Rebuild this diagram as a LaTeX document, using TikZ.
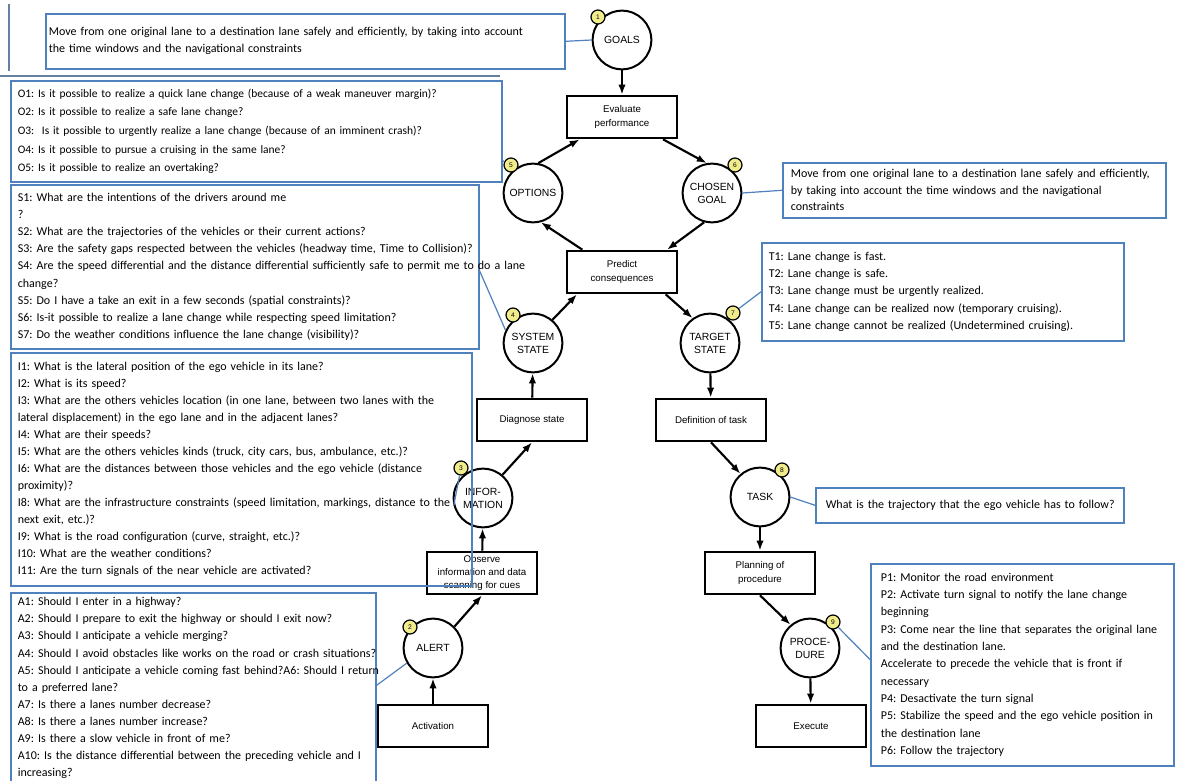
\documentclass[tikz,border=0pt]{standalone}
\usepackage{fontspec}
\setmainfont{Carlito}
\newfontfamily\arialf{Liberation Sans}
\usetikzlibrary{arrows.meta}
\definecolor{qblue}{RGB}{79,129,189}
\definecolor{badgey}{RGB}{240,236,140}
\frenchspacing
\hyphenpenalty=10000
\exhyphenpenalty=10000
\begin{document}
\begin{tikzpicture}[x=0.75pt,y=-0.75pt,
  proc/.style={draw, line width=1.5pt, minimum width=82pt, minimum height=32pt, inner sep=1pt, align=center, font=\arialf\fontsize{7.3}{9.8}\selectfont},
  state/.style={circle, draw, line width=1.5pt, minimum size=44pt, inner sep=0pt, align=center, font=\arialf\fontsize{7.8}{9.8}\selectfont},
  badge/.style={circle, draw=black, line width=0.9pt, fill=badgey, minimum size=10.5pt, inner sep=0pt, font=\arialf\fontsize{5}{5}\selectfont},
  flow/.style={line width=1.6pt, -{Latex[length=7.5pt,width=5.5pt]}},
  tbox/.style={draw=qblue, line width=1.2pt, anchor=north west, align=left, font=\fontsize{9}{12.8}\selectfont, inner ysep=2pt},
  conn/.style={draw=qblue, line width=0.9pt},
  frame/.style={draw=qblue!55!gray, line width=0.8pt}
]
\path[use as bounding box] (0,0) rectangle (1190,781);
\clip (0,0) rectangle (1190,781);
\fill[white] (0,0) rectangle (1190,781);

% stray frame lines at top left
\draw[frame] (9,4) -- (9,71);
\draw[frame] (0,76) -- (500,76);

% states
\node[state] (goals)  at (622,40)  {GOALS};
\node[state] (opt)    at (533,193) {OPTIONS};
\node[state] (chosen) at (712,193) {CHOSEN\\GOAL};
\node[state] (sys)    at (533,343) {SYSTEM\\STATE};
\node[state] (target) at (710,343) {TARGET\\STATE};
\node[state] (info)   at (483,498) {INFOR-\\MATION};
\node[state] (task)   at (760,497) {TASK};
\node[state] (alert)  at (433,648) {ALERT};
\node[state] (proc)   at (810,648) {PROCE-\\DURE};

% processes
\node[proc] (eval) at (622,117) {Evaluate\\performance};
\node[proc] (pred) at (622,272) {Predict\\consequences};
\node[proc] (diag) at (532,420) {Diagnose state};
\node[proc] (def)  at (711,420) {Definition of task};
\node[proc, font=\arialf\fontsize{7.3}{9.6}\selectfont] (obs)  at (482,573) {Observe\\information and data\\scanning for cues};
\node[proc] (plan) at (760,573) {Planning of\\procedure};
\node[proc] (act)  at (433,726) {Activation};
\node[proc] (exec) at (811,726) {Execute};

% flows
\draw[flow] (goals) -- (eval);
\draw[flow] (opt.80) -- ([xshift=10pt]eval.south west);
\draw[flow] ([xshift=-11pt]eval.south east) -- (chosen.100);
\draw[flow] (chosen.255) -- ([xshift=-8pt]pred.north east);
\draw[flow] ([xshift=12pt]pred.north west) -- (opt.285);
\draw[flow] (sys.50) -- ([xshift=8pt]pred.south west);
\draw[flow] ([xshift=-9pt]pred.south east) -- (target.125);
\draw[flow] (diag) -- (sys);
\draw[flow] (target) -- (def);
\draw[flow] (info.50) -- (diag.south);
\draw[flow] (def.south) -- (task.130);
\draw[flow] (obs) -- (info);
\draw[flow] (task) -- (plan);
\draw[flow] (alert.45) -- (obs.south);
\draw[flow] (plan.south) -- (proc.130);
\draw[flow] (act) -- (alert);
\draw[flow] (proc) -- (exec);

% text boxes
\node[tbox, text width=384.75pt, minimum height=41.25pt, inner xsep=2.25pt] (gbox) at (45,13)
{\mbox{Move from one original lane to a destination lane safely and efficiently, by taking into account}\\the time windows and the navigational constraints};

\node[tbox, text width=357.75pt, minimum height=75.75pt, inner xsep=5.25pt, font=\fontsize{8.6}{13.9}\selectfont] (obox) at (10,80)
{\mbox{O1: Is it possible to realize a quick lane change (because of a weak maneuver margin)?}\\
O2: Is it possible to realize a safe lane change?\\
\mbox{O3: \ Is it possible to urgently realize a lane change (because of an imminent crash)?}\\
O4: Is it possible to pursue a cruising in the same lane?\\
O5: Is it possible to realize an overtaking?};

\node[tbox, text width=340.5pt, minimum height=123pt, inner xsep=5.25pt] (sbox) at (10,184)
{S1: What are the intentions of the drivers around me\\
?\\
\mbox{S2: What are the trajectories of the vehicles or their current actions?}\\
\mbox{S3: Are the safety gaps respected between the vehicles (headway time, Time to Collision)?}\\
\mbox{S4: Are the speed differential and the distance differential sufficiently safe to permit me to do a lane}\\
change?\\
\mbox{S5: Do I have a take an exit in a few seconds (spatial constraints)?}\\
\mbox{S6: Is-it possible to realize a lane change while respecting speed limitation?}\\
\mbox{S7: Do the weather conditions influence the lane change (visibility)?}};

\node[tbox, text width=335.25pt, minimum height=174.75pt, inner xsep=5.25pt] (ibox) at (10,352)
{\mbox{I1: What is the lateral position of the ego vehicle in its lane?}\\
I2: What is its speed?\\
\mbox{I3: What are the others vehicles location (in one lane, between two lanes with the}\\
\mbox{lateral displacement) in the ego lane and in the adjacent lanes?}\\
I4: What are their speeds?\\
\mbox{I5: What are the others vehicles kinds (truck, city cars, bus, ambulance, etc.)?}\\
\mbox{I6: What are the distances between those vehicles and the ego vehicle (distance}\\
proximity)?\\
\mbox{I8: What are the infrastructure constraints (speed limitation, markings, distance to the}\\
next exit, etc.)?\\
\mbox{I9: What is the road configuration (curve, straight, etc.)?}\\
I10: What are the weather conditions?\\
\mbox{I11: Are the turn signals of the near vehicle are activated?}};

\node[tbox, text width=263.25pt, inner xsep=5.25pt, inner ysep=3.5pt] (abox) at (10,592)
{A1: Should I enter in a highway?\\
\mbox{A2: Should I prepare to exit the highway or should I exit now?}\\
A3: Should I anticipate a vehicle merging?\\
\mbox{A4: Should I avoid obstacles like works on the road or crash situations?}\\
\mbox{A5: Should I anticipate a vehicle coming fast behind?A6: Should I return}\\
to a preferred lane?\\
A7: Is there a lanes number decrease?\\
A8: Is there a lanes number increase?\\
A9: Is there a slow vehicle in front of me?\\
\mbox{A10: Is the distance differential between the preceding vehicle and I}\\
increasing?};

\node[tbox, text width=275.25pt, minimum height=41.25pt, inner xsep=6pt, font=\fontsize{9}{12.4}\selectfont] (cgbox) at (782,162)
{\mbox{Move from one original lane to a destination lane safely and efficiently,}\\
\mbox{by taking into account the time windows and the navigational}\\
constraints};

\node[tbox, text width=261pt, minimum height=73.5pt, inner xsep=5.25pt] (tbox) at (761,242)
{T1: Lane change is fast.\\
T2: Lane change is safe.\\
T3: Lane change must be urgently realized.\\
\mbox{T4: Lane change can be realized now (temporary cruising).}\\
\mbox{T5: Lane change cannot be realized (Undetermined cruising).}};

\node[tbox, text width=216pt, minimum height=26.25pt, inner xsep=7.5pt] (tkbox) at (815,487)
{\mbox{What is the trajectory that the ego vehicle has to follow?}};

\node[tbox, text width=212.25pt, minimum height=151.5pt, inner xsep=7.5pt, font=\fontsize{9}{13}\selectfont] (pbox) at (870,563)
{P1: Monitor the road environment\\
\mbox{P2: Activate turn signal to notify the lane change}\\
beginning\\
\mbox{P3: Come near the line that separates the original lane}\\
and the destination lane.\\
\mbox{Accelerate to precede the vehicle that is front if}\\
necessary\\
P4: Desactivate the turn signal\\
\mbox{P5: Stabilize the speed and the ego vehicle position in}\\
the destination lane\\
P6: Follow the trajectory};

% badges
\node[badge] (b1) at ([shift={(-24,-23)}]goals.center) {1};
\node[badge] (b2) at ([shift={(-23,-21)}]alert.center) {2};
\node[badge] (b3) at ([shift={(-22,-30)}]info.center) {3};
\node[badge] (b4) at ([shift={(-20,-28)}]sys.center) {4};
\node[badge] (b5) at ([shift={(-22,-28)}]opt.center) {5};
\node[badge] (b6) at ([shift={(23,-28)}]chosen.center) {6};
\node[badge] (b7) at ([shift={(23,-30)}]target.center) {7};
\node[badge] (b8) at ([shift={(22,-27)}]task.center) {8};
\node[badge] (b9) at ([shift={(23,-26)}]proc.center) {9};

% connectors from text boxes
\draw[conn] (gbox.east) -- (goals.west);
\draw[conn] ([yshift=-22pt]obox.east) -- (b5);
\draw[conn] ([yshift=-3pt]sbox.east) -- (sys.155);
\draw[conn] (info.195) -- (b3);
\draw[conn] ([yshift=2pt]abox.east) -- (alert.210);
\draw[conn] (chosen.east) -- (cgbox.west);
\draw[conn] (tbox.west) -- (b7);
\draw[conn] (task.east) -- (tkbox.west);
\draw[conn] (b9) -- ([yshift=4pt]pbox.west);
\end{tikzpicture}
\end{document}
